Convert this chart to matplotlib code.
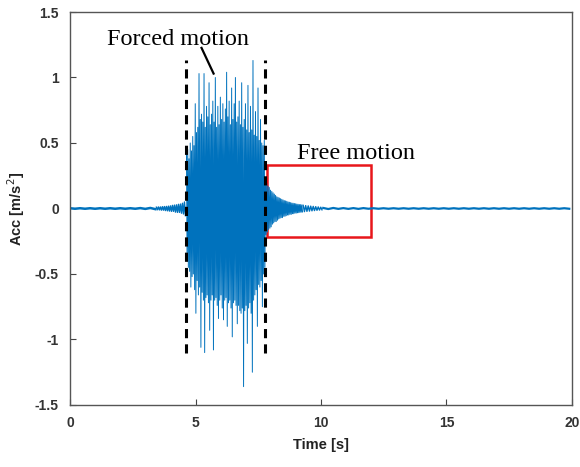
import numpy as np
import matplotlib
matplotlib.use('Agg')
import matplotlib.pyplot as plt
from matplotlib.patches import Rectangle

# ---- data ----
# quiet part before the shaker starts, one value every 0.2 s from t=0
quiet_t0, quiet_dt = 0.0, 0.2
quiet_acc = [0.002, -0.002, 0.002, -0.002, 0.002, -0.002, 0.002, -0.002, 0.002,
             -0.002, 0.002, -0.002, 0.002, -0.002, 0.003, -0.003, 0.004, -0.005]

# slow build-up just before the forcing, every 0.04 s from t=3.44
build_t0, build_dt = 3.44, 0.04
build_acc = [0.010, -0.010, 0.012, -0.011, 0.012, -0.013, 0.014, -0.013, 0.015, -0.016,
             0.016, -0.018, 0.018, -0.020, 0.020, -0.022, 0.024, -0.022, 0.026, -0.028,
             0.028, -0.030, 0.032, -0.030, 0.034, -0.036, 0.040, -0.042, 0.050, -0.055]

# forced motion, peaks every 0.025 s from t=4.64
forced_t0, forced_dt = 4.64, 0.025
forced_acc = [0.42, -0.40, 0.45, -0.45, 0.38, -0.48, 0.50, -0.60, 0.44, -0.52,
              0.55, -0.50, 0.48, -0.62, 0.80, -0.80, 0.58, -0.55, 0.62, -0.66,
              1.03, -0.60, 0.68, -1.06, 0.72, -0.64, 0.66, -0.70, 1.03, -1.10,
              0.62, -0.68, 0.78, -0.66, 0.70, -0.72, 0.96, -0.93, 0.64, -0.70,
              0.72, -0.66, 0.82, -1.08, 0.66, -0.70, 1.00, -0.68, 0.62, -0.74,
              0.78, -0.84, 0.64, -0.70, 0.85, -0.66, 0.68, -0.76, 0.80, -0.85,
              0.66, -0.70, 0.76, -0.68, 1.04, -0.90, 0.70, -0.72, 0.82, -0.70,
              0.64, -0.76, 0.92, -0.98, 0.68, -0.72, 0.80, -0.70, 1.00, -0.74,
              0.66, -0.88, 0.70, -0.74, 0.82, -0.78, 0.64, -0.80, 0.96, -0.76,
              0.62, -1.36, 0.68, -0.78, 0.80, -0.74, 0.60, -1.03, 0.94, -0.76,
              0.58, -0.72, 0.78, -0.80, 0.60, -1.25, 1.13, -0.70, 0.56, -0.66,
              0.74, -0.62, 0.55, -0.90, 0.92, -0.58, 0.52, -0.60, 0.68, -0.55,
              0.50, -0.75, 0.48, -0.50, 0.52, -0.45]

# free decay, every 0.025 s from t=7.79
free_t0, free_dt = 7.79, 0.025
free_acc = [0.22, -0.20, 0.19, -0.18, 0.17, -0.16, 0.16, -0.15, 0.14, -0.14,
            0.13, -0.12, 0.12, -0.11, 0.11, -0.10, 0.10, -0.10, 0.09, -0.09,
            0.085, -0.08, 0.08, -0.075, 0.075, -0.07, 0.07, -0.07, 0.065, -0.06,
            0.06, -0.06, 0.058, -0.055, 0.055, -0.05, 0.05, -0.05, 0.048, -0.045,
            0.045, -0.045, 0.042, -0.04, 0.04, -0.04, 0.038, -0.036, 0.036, -0.035,
            0.034, -0.033, 0.032, -0.032, 0.03, -0.03, 0.03, -0.028, 0.028, -0.027]

# end of the decay, every 0.05 s from t=9.29
decay_t0, decay_dt = 9.29, 0.05
decay_acc = [0.024, -0.024, 0.022, -0.022, 0.020, -0.020, 0.018, -0.018,
             0.016, -0.016, 0.014, -0.014, 0.012, -0.012, 0.010, -0.010]

# residual, every 0.2 s from t=10.09
tail_t0, tail_dt = 10.09, 0.2
tail_acc = [0.004, -0.004, 0.004, -0.003, 0.003, -0.003, 0.003, -0.003, 0.003, -0.002,
            0.002, -0.002, 0.002, -0.002, 0.002, -0.002, 0.002, -0.002, 0.002, -0.002,
            0.002, -0.002, 0.002, -0.002, 0.002, -0.002, 0.002, -0.002, 0.002, -0.002,
            0.002, -0.002, 0.002, -0.002, 0.002, -0.002, 0.002, -0.002, 0.002, -0.002,
            0.002, -0.002, 0.002, -0.002, 0.002, -0.002, 0.002, -0.002, 0.002, -0.002]

forced_bounds = [4.64, 7.76]
dash_ylim = [-1.10, 1.13]
free_box = [7.84, -0.22, 12.0, 0.335]  # x0, y0, x1, y1

BLUE = '#0072BD'


def seg_time(t0, dt, vals):
    return t0 + dt * np.arange(len(vals))


fig = plt.figure(figsize=(5.8, 4.67), dpi=100)
ax = fig.add_axes([0.1207, 0.1328, 0.8655, 0.8415])

# quiet stretches are drawn a little thicker, like the original trace
ax.plot(seg_time(quiet_t0, quiet_dt, quiet_acc), quiet_acc, color=BLUE, lw=1.8)
ax.plot(seg_time(tail_t0, tail_dt, tail_acc), tail_acc, color=BLUE, lw=1.6)
ax.plot(seg_time(build_t0, build_dt, build_acc), build_acc, color=BLUE, lw=1.0)
ax.plot(seg_time(decay_t0, decay_dt, decay_acc), decay_acc, color=BLUE, lw=1.0)

t_main = np.concatenate([seg_time(forced_t0, forced_dt, forced_acc),
                         seg_time(free_t0, free_dt, free_acc)])
acc_main = np.concatenate([forced_acc, free_acc])
ax.plot(t_main, acc_main, color=BLUE, lw=0.7)

for xb in forced_bounds:
    ax.plot([xb, xb], dash_ylim, color='black', ls=(0, (3, 2)), lw=2.2)

ax.add_patch(Rectangle((free_box[0], free_box[1]), free_box[2] - free_box[0],
                       free_box[3] - free_box[1], fill=False, edgecolor='#e8161b', lw=1.8))

ax.text(4.32, 1.287, 'Forced motion', family='Liberation Serif', fontsize=17.5,
        ha='center', va='center', color='black')
ax.plot([5.24, 5.72], [1.226, 1.03], color='black', lw=1.6)
ax.text(11.4, 0.42, 'Free motion', family='Liberation Serif', fontsize=17.5,
        ha='center', va='center', color='black')

ax.set_xlim(0, 20)
ax.set_ylim(-1.5, 1.5)
ax.set_xticks([0, 5, 10, 15, 20])
ax.set_yticks([-1.5, -1, -0.5, 0, 0.5, 1, 1.5])
ax.set_yticklabels(['-1.5', '-1', '-0.5', '0', '0.5', '1', '1.5'])
ax.tick_params(direction='in', length=4, width=0.8, color='#444444',
               labelsize=10, labelcolor='#333333', pad=8)
for s in ax.spines.values():
    s.set_color('#555555')
    s.set_linewidth(1.0)
for lab in ax.get_xticklabels() + ax.get_yticklabels():
    lab.set_family('Liberation Sans')
    lab.set_fontweight('bold')

ax.set_xlabel('Time [s]', family='Liberation Sans', fontsize=10.5, fontweight='bold',
              color='#222222', labelpad=6)
ax.set_ylabel('Acc [m/s$^2$]', family='Liberation Sans', fontsize=10.5, fontweight='bold',
              color='#222222', labelpad=6)

fig.savefig('out.png', dpi=100)
